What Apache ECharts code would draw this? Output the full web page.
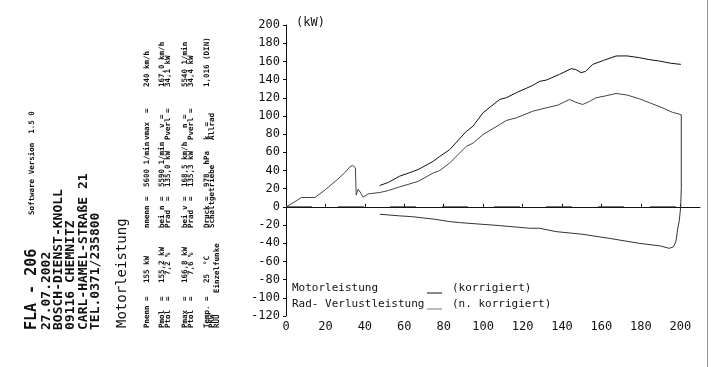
<!DOCTYPE html>
<html><head><meta charset="utf-8">
<script src="https://cdn.jsdelivr.net/npm/echarts@6/dist/echarts.min.js"></script>
<style>html,body{margin:0;padding:0;background:#fff}#c{width:711px;height:367px}</style>
</head><body><div id="c"></div>
<script>
// Motorleistung (korrigiert) [speed km/h, kW]
const motorX = [47.6,52,57.7,62,67,74.6,78,83,91.5,94.8,99.9,108.4,111.7,116.8,125.2,128.6,132,138.7,144.7,147,149.7,152,155.6,161,167.4,173,179.2,184,189.4,195,200.3];
const motorY = [23.5,27,33.8,37,41,50,55.5,62.9,83.1,88.6,103.4,118.1,120,125.5,133.6,138,139.4,145.7,152,151,147.6,149,156.7,161,165.9,166,164.1,162,160.4,158,156.7];
// Radleistung (start of run + measured curve)
const radX = [0,4,7.8,14.7,20,26,30,32.4,33.8,35.2,35.6,36.6,38,39.1,41.7,47.6,52,57.7,67,74.6,78,83,91.5,94.8,99.9,108.4,111.7,116.8,125.2,132,138,143.8,147,150.5,154,157.3,162,167.4,173,179.2,185,191,196,200.3];
const radY = [0,5,10.3,10.3,19,30,38,44,45.6,43,13,19.5,15,10.7,14.3,15.8,18,22,28,37.2,40,48.2,66.6,70,79.5,90.5,95,97.9,105.2,108.9,112,118.1,115,112.6,116,120,122,124.7,123,118.9,114,108.9,104,101.5];
// Verlustleistung (coast-down, drawn from the end of the run)
const lossX = [200.5,200.5,200.2,199.5,198.6,197.8,196.5,194.4,190,179.2,164,150,137,128.6,123.5,108.4,88,83,75.4,63.6,57.7,47.6];
const lossY = [101.5,20,0,-15,-25.4,-38,-44,-45.6,-43,-40.1,-34.6,-30,-27.2,-23.5,-23.5,-20.6,-17.3,-16.2,-13.6,-10.7,-9.9,-8.1];
// Null-Referenz
const zeroX = [0,198];
const zeroY = [0,0];

const legendRows = [
  {name:'Motorleistung', note:'(korrigiert)'},
  {name:'Rad- Verlustleistung', note:'(n. korrigiert)'}
];

// rotated header block: [column x, start y, text, size, weight]
const infoTexts = [
  [32,330,'FLA - 206',15,'bold'],
  [32,215,'Software Version  1.5 0',7.5,'bold'],
  [47,330,'27.07.2002',13,'bold'],
  [59,330,'BOSCH-DIENST-KNOLL',13,'bold'],
  [71,330,'09116 CHEMNITZ',13,'bold'],
  [84,330,'CARL-HAMEL-STRAßE 21',13,'bold'],
  [96,330,'TEL.0371/235800',13,'bold'],
  [122,328,'Motorleistung',14,'normal'],
  [147,328,'Pnenn =',7.5,'bold'],[147,283,'155 kW',7.5,'bold'],[147,228,'nnenn =',7.5,'bold'],[147,187,'5600 1/min',7.5,'bold'],[147,140,'vmax  =',7.5,'bold'],[147,87,'240 km/h',7.5,'bold'],
  [162,328,'Pmol  =',7.5,'bold'],[162,283,'155,2 kW',7.5,'bold'],[162,228,'bei n =',7.5,'bold'],[162,187,'5590 1/min',7.5,'bold'],[162,128,'v =',7.5,'bold'],[162,87,'167,0 km/h',7.5,'bold'],
  [168,328,'Ptol  =',7.5,'bold'],[168,275,'7,2 %',7.5,'bold'],[168,228,'Prad  =',7.5,'bold'],[168,187,'135,0 kW',7.5,'bold'],[168,140,'Pverl =',7.5,'bold'],[168,87,'34,1 kW',7.5,'bold'],
  [185,328,'Pmax  =',7.5,'bold'],[185,283,'166,8 kW',7.5,'bold'],[185,228,'bei v =',7.5,'bold'],[185,187,'168,5 km/h',7.5,'bold'],[185,128,'n =',7.5,'bold'],[185,87,'5540 1/min',7.5,'bold'],
  [191,328,'Ptol  =',7.5,'bold'],[191,275,'7,6 %',7.5,'bold'],[191,228,'Prad  =',7.5,'bold'],[191,187,'135,3 kW',7.5,'bold'],[191,140,'Pverl =',7.5,'bold'],[191,87,'34,4 kW',7.5,'bold'],
  [207,328,'Temp. =',7.5,'bold'],[207,283,'25  \u00b0C',7.5,'bold'],[207,228,'Druck =',7.5,'bold'],[207,187,'978  hPa',7.5,'bold'],[207,140,'k  =',7.5,'bold'],[207,87,'1,016 (DIN)',7.5,'bold'],
  [212,328,'PKW',7.5,'bold'],[212,228,'Schaltgetriebe',7.5,'bold'],[212,140,'Allrad',7.5,'bold'],
  [217,328,'RUU',7.5,'bold'],[217,293,'Einzelfunke',7.5,'bold']
];

const zip = (xs, ys) => xs.map((x,i)=>[x, ys[i]]);
const mono = 'DejaVu Sans Mono';

const graphics = [];
infoTexts.forEach(t => {
  graphics.push({type:'text', x:t[0], y:t[1], rotation:Math.PI/2,
    style:{text:t[2], font:t[4]+' '+t[3]+'px "'+mono+'"', fill:'#111', align:'left', verticalAlign:'middle'}});
});
graphics.push({type:'text', x:296, y:23, style:{text:'(kW)', font:'12px "'+mono+'"', fill:'#111', align:'left', verticalAlign:'middle'}});
const legendColors = ['#111','#777'];
legendRows.forEach((r,i) => {
  const y = 288 + i*16;
  graphics.push({type:'text', x:292, y:y, style:{text:r.name, font:'11px "'+mono+'"', fill:'#111', align:'left', verticalAlign:'middle'}});
  graphics.push({type:'line', shape:{x1:427, y1:y+5, x2:442, y2:y+5}, style:{stroke:legendColors[i], lineWidth:1}});
  graphics.push({type:'text', x:452, y:y, style:{text:r.note, font:'11px "'+mono+'"', fill:'#111', align:'left', verticalAlign:'middle'}});
});
graphics.push({type:'line', shape:{x1:707.5, y1:0, x2:707.5, y2:367}, style:{stroke:'#999', lineWidth:1}});

const chart = echarts.init(document.getElementById('c'), null, {renderer:'canvas'});
chart.setOption({
  animation:false,
  backgroundColor:'#fff',
  grid:{left:286, right:11, top:25, bottom:51, containLabel:false},
  xAxis:{type:'value', min:0, max:210, interval:20,
    axisLine:{show:true, lineStyle:{color:'#111', width:1}},
    axisTick:{show:true, inside:true, length:3, lineStyle:{color:'#111'}},
    axisLabel:{showMaxLabel:false, margin:5, color:'#111', fontFamily:mono, fontSize:12},
    splitLine:{show:false}},
  yAxis:{type:'value', min:-120, max:200, interval:20,
    axisLine:{show:true, onZero:false, lineStyle:{color:'#111', width:1}},
    axisTick:{show:true, length:3, lineStyle:{color:'#111'}},
    axisLabel:{margin:6, color:'#111', fontFamily:mono, fontSize:12},
    splitLine:{show:false}},
  series:[
    {name:'Null', type:'line', data:zip(zeroX,zeroY), showSymbol:false, lineStyle:{color:'#222', width:1, type:[26,26]}},
    {name:'Motorleistung', type:'line', data:zip(motorX,motorY), showSymbol:false, lineStyle:{color:'#111', width:1}},
    {name:'Radleistung', type:'line', data:zip(radX,radY), showSymbol:false, lineStyle:{color:'#444', width:1}},
    {name:'Verlustleistung', type:'line', data:zip(lossX,lossY), showSymbol:false, lineStyle:{color:'#333', width:1}}
  ],
  graphic:graphics
});
</script></body></html>
